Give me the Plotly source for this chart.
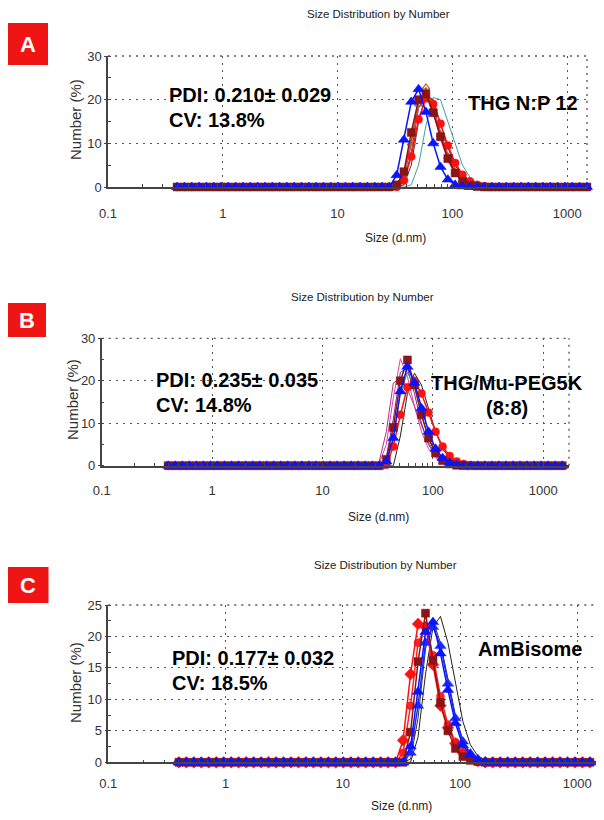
import plotly.graph_objects as go

# the page puts the figure 8 px in from the window's corner
OFF = 8
W, H = 604 - OFF, 820 - OFF

# ---------------- data ----------------
# Malvern size bins (d.nm)
BINS = [0.4, 0.4632, 0.5365, 0.6213, 0.7195, 0.8332, 0.9649, 1.117, 1.294, 1.499,
        1.736, 2.01, 2.328, 2.696, 3.122, 3.615, 4.187, 4.849, 5.615, 6.503,
        7.531, 8.721, 10.1, 11.7, 13.54, 15.69, 18.17, 21.04, 24.36, 28.21,
        32.67, 37.84, 43.82, 50.75, 58.77, 68.06, 78.82, 91.28, 105.7, 122.4,
        141.8, 164.2, 190.1, 220.2, 255.0, 295.3, 342.0, 396.1, 458.7, 531.2,
        615.1, 712.4, 825.0, 955.4, 1106, 1281, 1484, 1718]

X_TICK_VALS = [0.1, 1, 10, 100, 1000]
X_TICK_TEXT = ["0.1", "1", "10", "100", "1000"]

# Panel A : THG N:P 12
A_teal = [0,0,0,0,0,0,0,0,0,0,0,0,0,0,0,0,0,0,0,0,0,0,0,0,0,0,0,0,0,
          0, 0, 0, 0.5, 5, 14, 20.5, 20, 15, 9.5, 5, 2.3, 0.9, 0.3, 0, 0,
          0,0,0,0,0,0,0,0,0,0,0,0]
A_purple = [0,0,0,0,0,0,0,0,0,0,0,0,0,0,0,0,0,0,0,0,0,0,0,0,0,0,0,0,0,
            0, 0, 1, 8, 18, 21.5, 18, 12.5, 7.5, 4, 1.8, 0.7, 0.2, 0, 0, 0,
            0,0,0,0,0,0,0,0,0,0,0,0]
A_black = [0,0,0,0,0,0,0,0,0,0,0,0,0,0,0,0,0,0,0,0,0,0,0,0,0,0,0,0,0,
           0, 0, 0.5, 5, 15, 21, 20, 14.5, 9, 5, 2.3, 0.9, 0.3, 0.1, 0, 0,
           0,0,0,0,0,0,0,0,0,0,0,0]
A_magenta = [0,0,0,0,0,0,0,0,0,0,0,0,0,0,0,0,0,0,0,0,0,0,0,0,0,0,0,0,0,
             0, 0.3, 3, 11, 19.5, 21, 17, 11, 6, 3, 1.2, 0.4, 0.1, 0, 0, 0,
             0,0,0,0,0,0,0,0,0,0,0,0]
A_brown = [0,0,0,0,0,0,0,0,0,0,0,0,0,0,0,0,0,0,0,0,0,0,0,0,0,0,0,0,0,
           0, 0, 2, 10, 19, 22.8, 18, 12, 7, 3.5, 1.5, 0.5, 0.1, 0, 0, 0,
           0,0,0,0,0,0,0,0,0,0,0,0]
A_red = [0,0,0,0,0,0,0,0,0,0,0,0,0,0,0,0,0,0,0,0,0,0,0,0,0,0,0,0,0,
         0, 0, 1.5, 7, 15.5, 20.3, 19, 14.5, 9.5, 5.5, 2.8, 1.3, 0.5, 0.2, 0, 0,
         0,0,0,0,0,0,0,0,0,0,0,0]
A_maroon = [0,0,0,0,0,0,0,0,0,0,0,0,0,0,0,0,0,0,0,0,0,0,0,0,0,0,0,0,0,
            0, 0.5, 3.5, 12.5, 20, 21.3, 17, 11.5, 6.5, 3.2, 1.3, 0.4, 0.1, 0, 0, 0,
            0,0,0,0,0,0,0,0,0,0,0,0]
A_blue = [0,0,0,0,0,0,0,0,0,0,0,0,0,0,0,0,0,0,0,0,0,0,0,0,0,0,0,0,0,
          0, 2.7, 10.8, 19.5, 22.4, 17.2, 10, 4.6, 1.7, 0.5, 0.1, 0, 0, 0, 0, 0,
          0,0,0,0,0,0,0,0,0,0,0,0]

# Panel B : THG/Mu-PEG5K (8:8)
B_black = [0,0,0,0,0,0,0,0,0,0,0,0,0,0,0,0,0,0,0,0,0,0,0,0,0,0,0,0,0,
           0, 0, 0, 0, 7, 17, 21.8, 19, 13.5, 8, 4, 1.8, 0.6, 0.2, 0, 0,
           0,0,0,0,0,0,0,0,0,0,0,0,0]
B_pink = [0,0,0,0,0,0,0,0,0,0,0,0,0,0,0,0,0,0,0,0,0,0,0,0,0,0,0,0,0,
          0, 0.5, 5, 16, 25.2, 21, 14, 8, 4, 1.8, 0.6, 0.2, 0, 0, 0, 0,
          0,0,0,0,0,0,0,0,0,0,0,0,0]
B_magenta = [0,0,0,0,0,0,0,0,0,0,0,0,0,0,0,0,0,0,0,0,0,0,0,0,0,0,0,0,0,
             0, 1, 8, 19.5, 20.5, 18, 14, 9.5, 5.5, 2.7, 1.1, 0.3, 0, 0, 0, 0,
             0,0,0,0,0,0,0,0,0,0,0,0,0]
B_purple = [0,0,0,0,0,0,0,0,0,0,0,0,0,0,0,0,0,0,0,0,0,0,0,0,0,0,0,0,0,
            0, 0, 2, 11, 22, 23, 17, 10, 5, 2.2, 0.8, 0.2, 0, 0, 0, 0,
            0,0,0,0,0,0,0,0,0,0,0,0,0]
B_green = [0,0,0,0,0,0,0,0,0,0,0,0,0,0,0,0,0,0,0,0,0,0,0,0,0,0,0,0,0,
           0, 0, 0.5, 6, 17, 22, 18.5, 12, 6.5, 3, 1.2, 0.4, 0.1, 0, 0, 0,
           0,0,0,0,0,0,0,0,0,0,0,0,0]
B_red = [0,0,0,0,0,0,0,0,0,0,0,0,0,0,0,0,0,0,0,0,0,0,0,0,0,0,0,0,0,
         0, 0, 0.2, 4.5, 12, 18.5, 20, 17, 12.5, 8, 4.5, 2.3, 1, 0.4, 0.1, 0,
         0,0,0,0,0,0,0,0,0,0,0,0,0]
B_maroon = [0,0,0,0,0,0,0,0,0,0,0,0,0,0,0,0,0,0,0,0,0,0,0,0,0,0,0,0,0,
            0, 0, 1.5, 9, 20, 24.9, 19, 12, 6.5, 3, 1.2, 0.4, 0.1, 0, 0, 0,
            0,0,0,0,0,0,0,0,0,0,0,0,0]
B_blue = [0,0,0,0,0,0,0,0,0,0,0,0,0,0,0,0,0,0,0,0,0,0,0,0,0,0,0,0,0,
          0, 0, 1, 6.5, 17.5, 23.3, 19.5, 13.5, 8, 4, 1.8, 0.7, 0.2, 0, 0, 0,
          0,0,0,0,0,0,0,0,0,0,0,0,0]

# Panel C : AmBisome
C_black1 = [0,0,0,0,0,0,0,0,0,0,0,0,0,0,0,0,0,0,0,0,0,0,0,0,0,0,0,0,0,
            0, 0, 0, 4, 14, 21.5, 23.2, 19, 12.5, 6.5, 2.8, 1, 0.3, 0, 0, 0,
            0,0,0,0,0,0,0,0,0,0,0,0]
C_black2 = [0,0,0,0,0,0,0,0,0,0,0,0,0,0,0,0,0,0,0,0,0,0,0,0,0,0,0,0,0,
            0, 0, 0.5, 7, 18, 22.5, 19, 13, 7.5, 3.5, 1.3, 0.4, 0.1, 0, 0, 0,
            0,0,0,0,0,0,0,0,0,0,0,0]
C_red2 = [0,0,0,0,0,0,0,0,0,0,0,0,0,0,0,0,0,0,0,0,0,0,0,0,0,0,0,0,0,
          0, 1.5, 9, 19, 21.5, 17, 10.5, 6, 3.2, 1.5, 0.6, 0.2, 0, 0, 0, 0,
          0,0,0,0,0,0,0,0,0,0,0,0]
C_red = [0,0,0,0,0,0,0,0,0,0,0,0,0,0,0,0,0,0,0,0,0,0,0,0,0,0,0,0,0,
         0, 3.5, 14, 22, 21.5, 15.5, 9, 5.5, 3, 1.5, 0.7, 0.2, 0, 0, 0, 0,
         0,0,0,0,0,0,0,0,0,0,0,0]
C_maroon = [0,0,0,0,0,0,0,0,0,0,0,0,0,0,0,0,0,0,0,0,0,0,0,0,0,0,0,0,0,
            0, 0, 4.8, 16, 23.7, 16.2, 9.5, 5, 2.2, 0.9, 0.3, 0.1, 0, 0, 0, 0,
            0,0,0,0,0,0,0,0,0,0,0,0]
C_blue2 = [0,0,0,0,0,0,0,0,0,0,0,0,0,0,0,0,0,0,0,0,0,0,0,0,0,0,0,0,0,
           0, 0, 1.5, 9, 19, 21.5, 18.5, 12.5, 7, 3.3, 1.4, 0.5, 0.1, 0, 0, 0,
           0,0,0,0,0,0,0,0,0,0,0,0]
C_blue = [0,0,0,0,0,0,0,0,0,0,0,0,0,0,0,0,0,0,0,0,0,0,0,0,0,0,0,0,0,
          0, 0, 2.5, 11.2, 20.7, 22.3, 17.3, 11.5, 6.2, 2.7, 1.2, 0.4, 0.1, 0, 0, 0,
          0,0,0,0,0,0,0,0,0,0,0,0]

PANEL_TEXT = {
    "A": ("PDI: 0.210\u00b1 0.029", "CV: 13.8%", ["THG N:P 12"]),
    "B": ("PDI: 0.235\u00b1 0.035", "CV: 14.8%", ["THG/Mu-PEG5K", "(8:8)"]),
    "C": ("PDI: 0.177\u00b1 0.032", "CV: 18.5%", ["AmBisome"]),
}

# ---------------- styling ----------------
ARIAL = "Liberation Sans, Arial, sans-serif"


def px(x):
    return (x - OFF) / W


def py(y):
    return 1 - (y - OFF) / H


# panel geometry in window pixels: x-left, x-right, y at top value, y at zero
GEOM = {
    "A": dict(ax="", x0=108, x1=587, dec=114.8, ytop=56, yzero=187, ymax=30, dt=10, mdt=5,
              title=(378, 14), xtitle=(395, 238), ytitle=(75, 120), stand=14,
              pdi=(167, 95, 120), box=(8, 23, 48, 65),
              right=[(523, 103.5)]),
    "B": dict(ax="2", x0=101.7, x1=569, dec=110.4, ytop=338.3, yzero=465.7, ymax=30, dt=10, mdt=5,
              title=(362, 297), xtitle=(378, 517), ytitle=(72, 400), stand=12,
              pdi=(154, 380, 404.5), box=(8, 303, 46, 337),
              right=[(507, 382.5), (506.5, 408)]),
    "C": dict(ax="3", x0=108.3, x1=597, dec=117.25, ytop=605, yzero=762.3, ymax=25, dt=5, mdt=2.5,
              title=(385, 565), xtitle=(401, 806), ytitle=(75, 683), stand=8,
              pdi=(170, 657.5, 683), box=(8, 567, 48.5, 603),
              right=[(530, 649.3)]),
}

SERIES = {
    "A": [(A_teal, "line", "#3f9f9f"), (A_purple, "line", "#7a2a8a"), (A_black, "line", "#333333"),
          (A_magenta, "line", "#cc3399"), (A_brown, "otri", "#b0602a"),
          (A_red, "circle", "#ff1010"), (A_maroon, "square", "#8b1414"), (A_blue, "tri", "#0a14ff")],
    "B": [(B_black, "line", "#222222"), (B_pink, "line", "#e040a0"), (B_magenta, "line", "#b03090"),
          (B_purple, "line", "#6a2a8a"), (B_green, "line", "#2f8f6f"),
          (B_red, "circle", "#ff1010"), (B_maroon, "square", "#8b1414"), (B_blue, "tri", "#0a14ff")],
    "C": [(C_black1, "line", "#222222"), (C_black2, "line", "#333333"), (C_red2, "circle", "#ff2020"),
          (C_red, "diamond", "#ff1010"), (C_maroon, "square", "#8b1414"),
          (C_blue2, "tri", "#1a2aff"), (C_blue, "tri", "#0a14ff")],
}

fig = go.Figure()
layout = dict(template="none", width=W, height=H, margin=dict(l=0, r=0, t=0, b=0, pad=0),
              paper_bgcolor="white", plot_bgcolor="white", showlegend=False, autosize=False)
annotations = []
shapes = []

for key, g in GEOM.items():
    ax = g["ax"]
    xname = "x" + ax
    yname = "y" + ax
    xr = [-1, -1 + (g["x1"] - g["x0"]) / g["dec"]]
    layout["xaxis" + ax] = dict(
        domain=[px(g["x0"]), px(g["x1"])], anchor=yname, type="log", range=xr,
        tickvals=X_TICK_VALS, ticktext=X_TICK_TEXT, automargin=False,
        showgrid=True, gridcolor="#555555", gridwidth=1.3, griddash="2px,5px",
        showline=True, linecolor="#444444", linewidth=1.5,
        ticks="inside", ticklen=4, tickcolor="#444444",
        minor=dict(ticks="inside", ticklen=3, tickcolor="#444444", dtick="D1", showgrid=False),
        tickfont=dict(family=ARIAL, size=13, color="#333333"),
        ticklabelstandoff=g["stand"], zeroline=False, fixedrange=True)
    layout["yaxis" + ax] = dict(
        domain=[py(g["yzero"]), py(g["ytop"])], anchor=xname, range=[0, g["ymax"]],
        dtick=g["dt"], tick0=0, automargin=False,
        showgrid=True, gridcolor="#555555", gridwidth=1.3, griddash="2px,5px",
        showline=True, linecolor="#444444", linewidth=1.5,
        ticks="outside", ticklen=2, tickcolor="#444444",
        minor=dict(ticks="inside", ticklen=3, tickcolor="#444444", dtick=g["mdt"], showgrid=False),
        tickfont=dict(family=ARIAL, size=13, color="#333333"),
        zeroline=False, fixedrange=True)

    for vals, kind, col in SERIES[key]:
        xs = BINS[:len(vals)]
        if kind == "line":
            tr = go.Scatter(x=xs, y=vals, mode="lines", line=dict(color=col, width=1))
        else:
            sym = {"tri": "triangle-up", "square": "square", "circle": "circle",
                   "diamond": "diamond", "otri": "triangle-up-open"}[kind]
            size = {"tri": 10, "square": 8, "circle": 8, "diamond": 9, "otri": 7}[kind]
            tr = go.Scatter(x=xs, y=vals, mode="lines+markers",
                            line=dict(color=col, width=1.5),
                            marker=dict(symbol=sym, size=size, color=col,
                                        line=dict(width=0.5 if kind != "otri" else 1.2, color=col)))
        tr.update(xaxis=xname, yaxis=yname, cliponaxis=False, hoverinfo="skip")
        fig.add_trace(tr)

    # dotted top and right borders
    shapes.append(dict(type="line", xref="paper", yref="paper",
                       x0=px(g["x0"]), x1=px(g["x1"]), y0=py(g["ytop"]), y1=py(g["ytop"]),
                       line=dict(color="#555555", width=1.3, dash="2px,5px")))
    shapes.append(dict(type="line", xref="paper", yref="paper",
                       x0=px(g["x1"]), x1=px(g["x1"]), y0=py(g["yzero"]), y1=py(g["ytop"]),
                       line=dict(color="#555555", width=1.3, dash="2px,5px")))

    # red label box
    bx0, by0, bx1, by1 = g["box"]
    shapes.append(dict(type="rect", xref="paper", yref="paper",
                       x0=px(bx0), x1=px(bx1), y0=py(by1), y1=py(by0),
                       fillcolor="#f01414", line=dict(width=0)))
    annotations.append(dict(text="<b>%s</b>" % key, x=px((bx0 + bx1) / 2), y=py((by0 + by1) / 2),
                            xref="paper", yref="paper", showarrow=False,
                            xanchor="center", yanchor="middle",
                            font=dict(family=ARIAL, size=22, color="white")))

    # titles
    tx, ty = g["title"]
    annotations.append(dict(text="Size Distribution by Number", x=px(tx), y=py(ty),
                            xref="paper", yref="paper", showarrow=False,
                            xanchor="center", yanchor="middle",
                            font=dict(family=ARIAL, size=11.5, color="#222222")))
    tx, ty = g["xtitle"]
    annotations.append(dict(text="Size (d.nm)", x=px(tx), y=py(ty),
                            xref="paper", yref="paper", showarrow=False,
                            xanchor="center", yanchor="middle",
                            font=dict(family=ARIAL, size=12, color="#222222")))
    tx, ty = g["ytitle"]
    annotations.append(dict(text="Number (%)", x=px(tx), y=py(ty), textangle=-90,
                            xref="paper", yref="paper", showarrow=False,
                            xanchor="center", yanchor="middle",
                            font=dict(family=ARIAL, size=15, color="#333333")))

    pdi, cv, right = PANEL_TEXT[key]
    lx, y1, y2 = g["pdi"]
    for txt, yy in ((pdi, y1), (cv, y2)):
        annotations.append(dict(text="<b>%s</b>" % txt, x=px(lx), y=py(yy),
                                xanchor="left", yanchor="middle",
                                xref="paper", yref="paper", showarrow=False,
                                font=dict(family=ARIAL, size=20, color="black")))
    for txt, (rx, ry) in zip(right, g["right"]):
        annotations.append(dict(text="<b>%s</b>" % txt, x=px(rx), y=py(ry),
                                xanchor="center", yanchor="middle",
                                xref="paper", yref="paper", showarrow=False,
                                font=dict(family=ARIAL, size=20, color="black")))

layout["annotations"] = annotations
layout["shapes"] = shapes
fig.update_layout(**layout)
fig.write_html("out.html")
